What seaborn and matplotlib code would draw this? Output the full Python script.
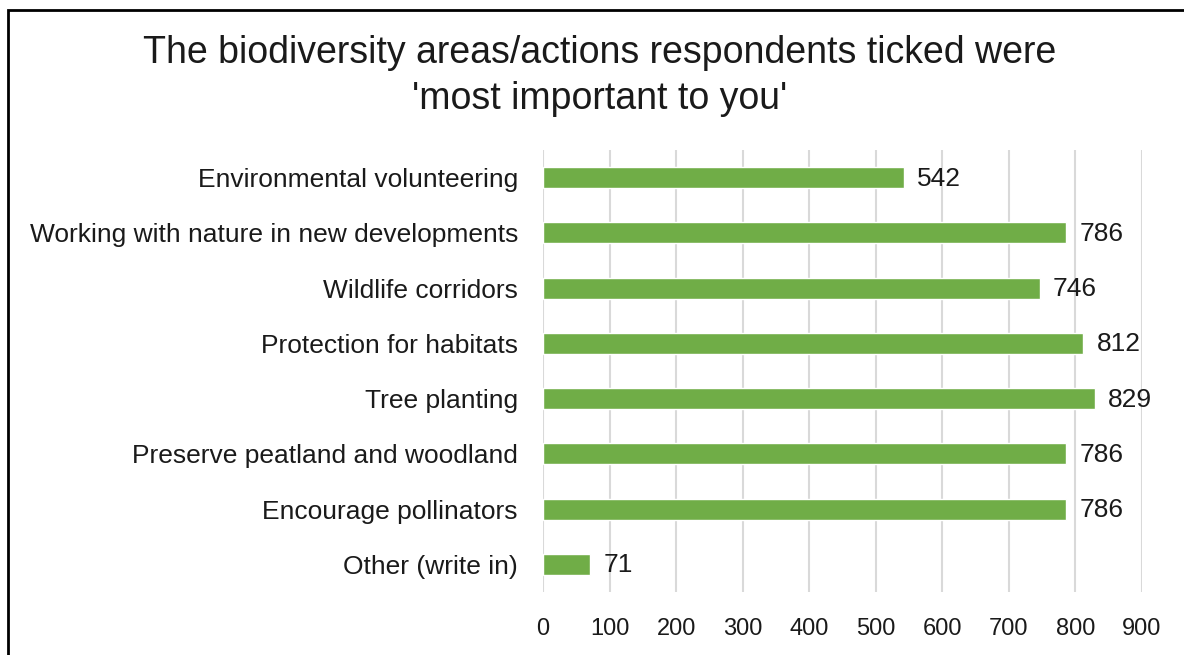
import seaborn as sns
import matplotlib.pyplot as plt
from matplotlib.patches import Rectangle

# data
categories = [
    'Environmental volunteering',
    'Working with nature in new developments',
    'Wildlife corridors',
    'Protection for habitats',
    'Tree planting',
    'Preserve peatland and woodland',
    'Encourage pollinators',
    'Other (write in)',
]
counts = [542, 786, 746, 812, 829, 786, 786, 71]
x_ticks = [0, 100, 200, 300, 400, 500, 600, 700, 800, 900]

sns.set_theme(style="white")
plt.rcParams['font.family'] = ['Liberation Sans', 'DejaVu Sans']

W, H = 1184, 655
fig = plt.figure(figsize=(W / 100, H / 100), dpi=100)
ax = fig.add_axes([543 / W, 1 - 592 / H, (1142 - 543) / W, (592 - 150) / H])

sns.barplot(x=counts, y=categories, orient='h', color='#70AD47',
            saturation=1, width=0.38, ax=ax, zorder=3)

ax.set_xlim(0, 900)
ax.set_xticks(x_ticks)
ax.set_xticklabels([str(t) for t in x_ticks])
ax.xaxis.grid(True, color='#D9D9D9', linewidth=1.5, zorder=0)
ax.set_axisbelow(True)
ax.tick_params(axis='x', length=0, pad=19, labelsize=17, colors='#1a1a1a')
ax.tick_params(axis='y', length=0, pad=18, labelsize=19, colors='#1a1a1a')
ax.set_xlabel('')
ax.set_ylabel('')
for s in ax.spines.values():
    s.set_visible(False)

# value labels
for i, v in enumerate(counts):
    ax.text(v + 20, i + 0.02, str(v), va='center', ha='left', fontsize=19, color='#1a1a1a')

fig.text(600 / W, 1 - 76 / H,
         "The biodiversity areas/actions respondents ticked were\n'most important to you'",
         ha='center', va='center', fontsize=27, color='#1a1a1a', linespacing=1.33)

# frame around the chart (cropped on the right and bottom)
fig.add_artist(Rectangle((8 / W, -0.1), 1.2, 1.1 - 10 / H, transform=fig.transFigure,
                         fill=False, edgecolor='black', linewidth=2))

fig.savefig('out.png', dpi=100)
